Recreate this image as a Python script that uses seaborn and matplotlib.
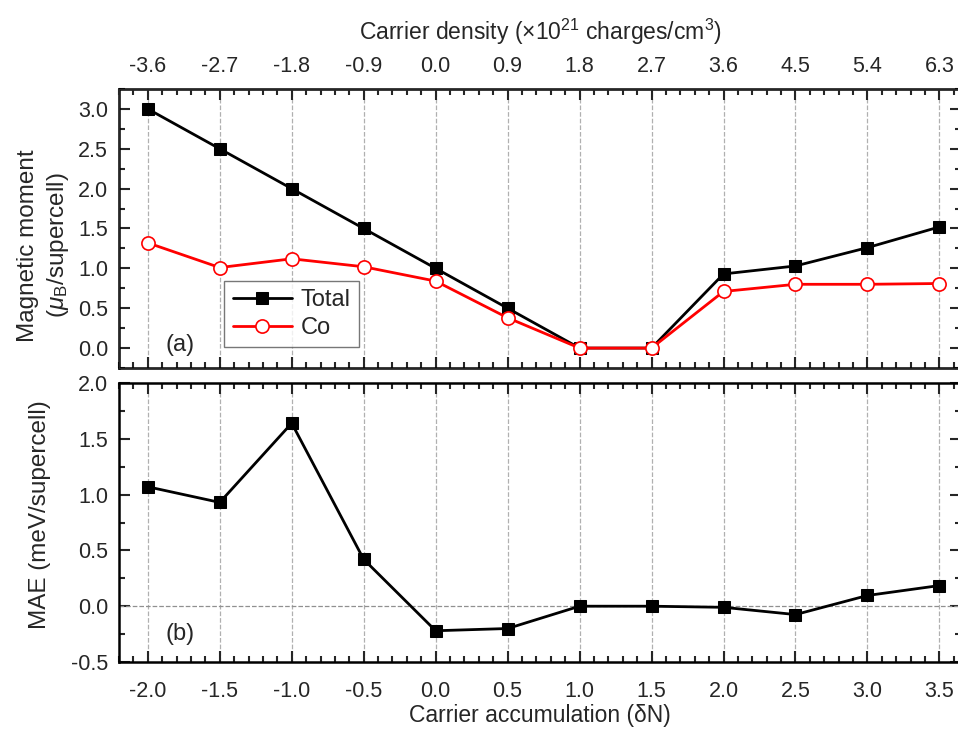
import matplotlib
matplotlib.use("Agg")
import matplotlib.pyplot as plt
import seaborn as sns
from matplotlib.ticker import MultipleLocator

# data
dN = [-2.0, -1.5, -1.0, -0.5, 0.0, 0.5, 1.0, 1.5, 2.0, 2.5, 3.0, 3.5]
total = [3.0, 2.5, 2.0, 1.5, 1.0, 0.5, 0.0, 0.0, 0.93, 1.03, 1.26, 1.52]
co = [1.32, 1.01, 1.12, 1.02, 0.84, 0.38, 0.0, 0.0, 0.71, 0.80, 0.80, 0.81]
mae = [1.07, 0.93, 1.64, 0.42, -0.22, -0.20, 0.0, 0.0, -0.01, -0.075, 0.096, 0.185]
density_ticks = ["-3.6", "-2.7", "-1.8", "-0.9", "0.0", "0.9", "1.8", "2.7",
                 "3.6", "4.5", "5.4", "6.3"]

sns.set_style("ticks")
plt.rcParams["font.family"] = ["Liberation Sans", "DejaVu Sans"]
plt.rcParams["mathtext.fontset"] = "custom"
plt.rcParams["mathtext.rm"] = "Liberation Sans"
plt.rcParams["mathtext.it"] = "Liberation Sans:italic"
plt.rcParams["axes.unicode_minus"] = False

TICK_FS = 15.5
LABEL_FS = 16.5
YLABEL_FS = 17.5

fig = plt.figure(figsize=(9.58, 7.29), dpi=100)
W, H = 958, 729
left, width = 119 / W, 842 / W
ax1 = fig.add_axes([left, 1 - 368 / H, width, 279 / H])
ax2 = fig.add_axes([left, 1 - 662 / H, width, 279 / H])


def style(ax):
    ax.set_xlim(-2.2, 3.65)
    ax.xaxis.set_major_locator(MultipleLocator(0.5))
    ax.xaxis.set_minor_locator(MultipleLocator(0.1))
    ax.yaxis.set_major_locator(MultipleLocator(0.5))
    ax.yaxis.set_minor_locator(MultipleLocator(0.25))
    ax.tick_params(which="both", direction="in", top=True, right=True,
                   width=1.5, labelsize=TICK_FS)
    ax.tick_params(which="major", length=8)
    ax.tick_params(which="minor", length=4)
    ax.tick_params(axis="y", pad=8)
    ax.tick_params(axis="x", pad=14)
    for s in ax.spines.values():
        s.set_linewidth(1.8)
        s.set_color("black")
    ax.grid(axis="x", which="major", linestyle="--", color="#b0b0b0", linewidth=0.9)
    ax.set_axisbelow(True)


# (a) magnetic moment
sns.lineplot(x=dN, y=total, ax=ax1, color="black", marker="s", markersize=9,
             linewidth=2, markeredgecolor="black", label="Total", zorder=3)
sns.lineplot(x=dN, y=co, ax=ax1, color="red", marker="o", markersize=9.5,
             linewidth=2, markerfacecolor="white", markeredgecolor="red",
             markeredgewidth=1.2, label="Co", zorder=4)
style(ax1)
ax1.set_ylim(-0.25, 3.25)
ax1.set_xticklabels([])
ax1.set_xlabel("")
ax1.set_ylabel("Magnetic moment\n($\\mu_\\mathrm{B}$/supercell)", fontsize=YLABEL_FS,
               linespacing=1.3)
ax1.yaxis.set_label_coords(-0.057, 0.44)
ax1.text(-1.88, 0.04, "(a)", fontsize=17, va="center")
leg = ax1.legend(loc="lower left", bbox_to_anchor=(0.125, 0.075), borderaxespad=0,
                 fontsize=17, handlelength=2.5, handletextpad=0.4,
                 frameon=True, fancybox=False, borderpad=0.35, labelspacing=0.25)
leg.get_frame().set_edgecolor("#555555")
leg.get_frame().set_linewidth(1.0)

# top axis: carrier density
top = ax1.twiny()
top.set_xlim(ax1.get_xlim())
top.set_xticks(dN)
top.set_xticklabels(density_ticks)
top.xaxis.set_minor_locator(MultipleLocator(0.1))
top.tick_params(which="both", direction="in", width=1.5, labelsize=TICK_FS, pad=8.5)
top.tick_params(which="major", length=8)
top.tick_params(which="minor", length=4)
top.set_xlabel("Carrier density (×10$^{21}$ charges/cm$^{3}$)", fontsize=LABEL_FS,
               labelpad=12)

# (b) MAE
ax2.axhline(0, linestyle="--", color="#909090", linewidth=0.9, zorder=1)
sns.lineplot(x=dN, y=mae, ax=ax2, color="black", marker="s", markersize=9,
             linewidth=2, markeredgecolor="black", zorder=3)
style(ax2)
ax2.set_ylim(-0.5, 2.0)
ax2.set_ylabel("MAE (meV/supercell)", fontsize=YLABEL_FS)
ax2.yaxis.set_label_coords(-0.081, 0.527)
ax2.set_xlabel("Carrier accumulation (δN)", fontsize=LABEL_FS, labelpad=1)
ax2.set_xticks(dN)
ax2.set_xticklabels([f"{v:.1f}" for v in dN])
ax2.text(-1.88, -0.25, "(b)", fontsize=17, va="center")

fig.savefig("out.png", dpi=100)
